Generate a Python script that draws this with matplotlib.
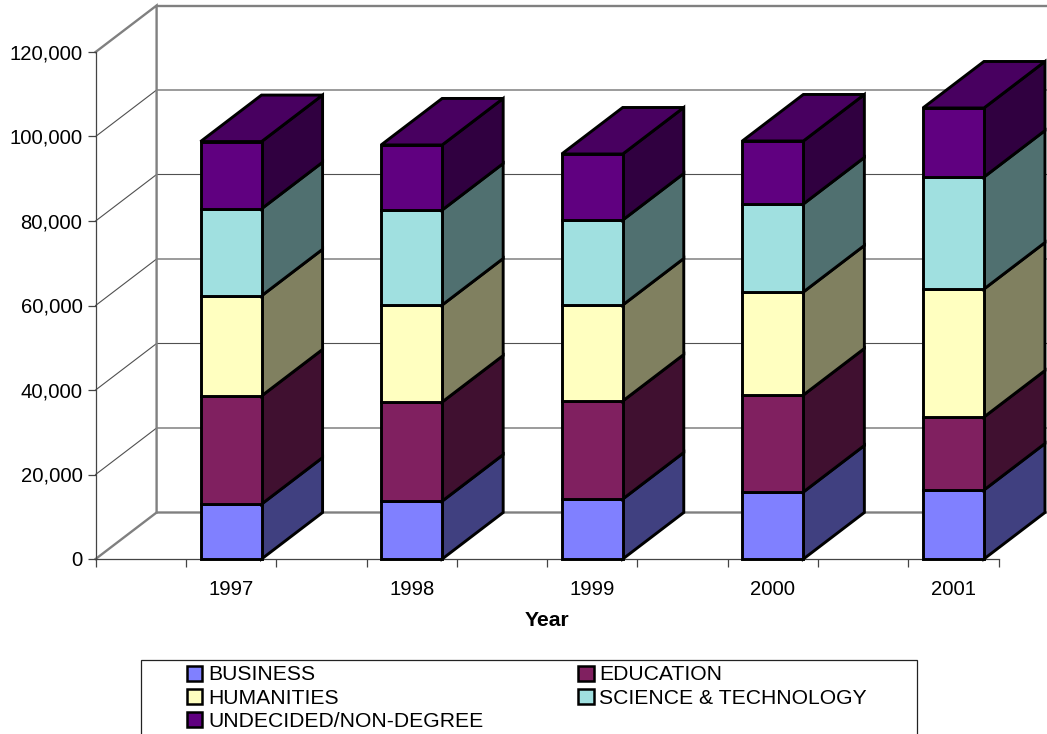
import matplotlib
matplotlib.use("Agg")
import matplotlib.pyplot as plt
from matplotlib.patches import Polygon, Rectangle, Patch
from matplotlib.ticker import FuncFormatter

plt.rcParams['font.family'] = ['Liberation Sans', 'DejaVu Sans']

years = ['1997', '1998', '1999', '2000', '2001']
business = [13000, 13700, 14200, 15860, 16330]
education = [25600, 23460, 23200, 22960, 17270]
humanities = [23700, 22960, 22720, 24380, 30300]
science = [20600, 22480, 20120, 20830, 26500]
undecided = [15900, 15400, 15620, 14910, 16350]
names = ['BUSINESS', 'EDUCATION', 'HUMANITIES', 'SCIENCE & TECHNOLOGY', 'UNDECIDED/NON-DEGREE']
series = [business, education, humanities, science, undecided]
front_colors = ['#8080FF', '#802060', '#FFFFC0', '#A0E0E0', '#600080']
side_colors = ['#404080', '#401030', '#808060', '#507070', '#300040']
top_color = '#480060'

W, H = 1047, 734
fig = plt.figure(figsize=(W / 100, H / 100), dpi=100, facecolor='white')
L, R, T, B = 95.6, 998.6, 52, 559
ax = fig.add_axes([L / W, 1 - B / H, (R - L) / W, (B - T) / H])
ax.set_xlim(-0.75, 4.25)
ax.set_ylim(0, 120000)
ax.patch.set_visible(False)
for s in ('top', 'right'):
    ax.spines[s].set_visible(False)
for s in ('left', 'bottom'):
    ax.spines[s].set_color('#444444')
    ax.spines[s].set_linewidth(0.9)

px_x = 5 / (R - L)
px_y = 120000 / (B - T)
DX, DY = 61 * px_x, 46.5 * px_y
GRAY = '#808080'
x0, x1 = -0.75, 4.25
ymax = 120000

# walls
ax.plot([x0, x0 + DX, x0 + DX], [ymax, ymax + DY, DY], color=GRAY, lw=1.7, clip_on=False, zorder=1.5, solid_joinstyle='miter')
ax.plot([x0 + DX, x1 + DX], [ymax + DY, ymax + DY], color=GRAY, lw=1.7, clip_on=False, zorder=1.5)
ax.plot([x0, x0 + DX, x1 + DX], [0, DY, DY], color=GRAY, lw=1.7, clip_on=False, zorder=1.5, solid_joinstyle='miter')
for v in range(20000, 120000, 20000):
    ax.plot([x0, x0 + DX, x1 + DX], [v, v + DY, v + DY], color='#505050', lw=0.8, clip_on=False, zorder=1.2)

# ticks
ax.set_xticks(range(len(years)))
ax.set_xticklabels(years)
ax.set_xticks([x0 + 0.5 * i for i in range(11)], minor=True)
ax.tick_params(axis='x', which='major', length=0, pad=15, labelsize=14.6)
ax.tick_params(axis='x', which='minor', length=6, width=0.9, color='#444444')
ax.set_yticks(range(0, 120001, 20000))
ax.yaxis.set_major_formatter(FuncFormatter(lambda v, _: f'{int(v):,}'))
ax.tick_params(axis='y', length=6, width=0.9, color='#444444', pad=3.5, labelsize=14.6)
ax.set_xlabel('Year', fontweight='bold', fontsize=15.2, labelpad=8.5)

# bars
BW = 0.338
EDGE = dict(edgecolor='black', linewidth=2.1, joinstyle='miter', clip_on=False, zorder=4)
for i in range(len(years)):
    base = 0
    for j, vals in enumerate(series):
        top = base + vals[i]
        l, r = i - BW / 2, i + BW / 2
        ax.add_patch(Polygon([(r, base), (r + DX, base + DY), (r + DX, top + DY), (r, top)],
                             facecolor=side_colors[j], **EDGE))
        ax.add_patch(Rectangle((l, base), BW, vals[i], facecolor=front_colors[j], **EDGE))
        if j == len(series) - 1:
            ax.add_patch(Polygon([(l, top), (l + DX, top + DY), (r + DX, top + DY), (r, top)],
                                 facecolor=top_color, **EDGE))
        base = top

# legend
fig.add_artist(Rectangle((140.5 / W, -0.01), (917 - 140.5) / W, 0.01 + 1 - 659.5 / H,
                         transform=fig.transFigure, facecolor='white', edgecolor='#222222', lw=0.9))
order = [0, 2, 4, 1, 3]
handles = [Patch(facecolor=front_colors[k], edgecolor='black', linewidth=1.8, label=names[k]) for k in order]
leg = fig.legend(handles=handles, ncols=2, loc='upper left', bbox_to_anchor=(187 / W, 1 - 665.5 / H),
                 borderaxespad=0, borderpad=0, frameon=False, fontsize=15.2,
                 handlelength=0.72, handleheight=0.72, handletextpad=0.28, labelspacing=0.2,
                 columnspacing=4.5)
fig.savefig('out.png', dpi=100)
